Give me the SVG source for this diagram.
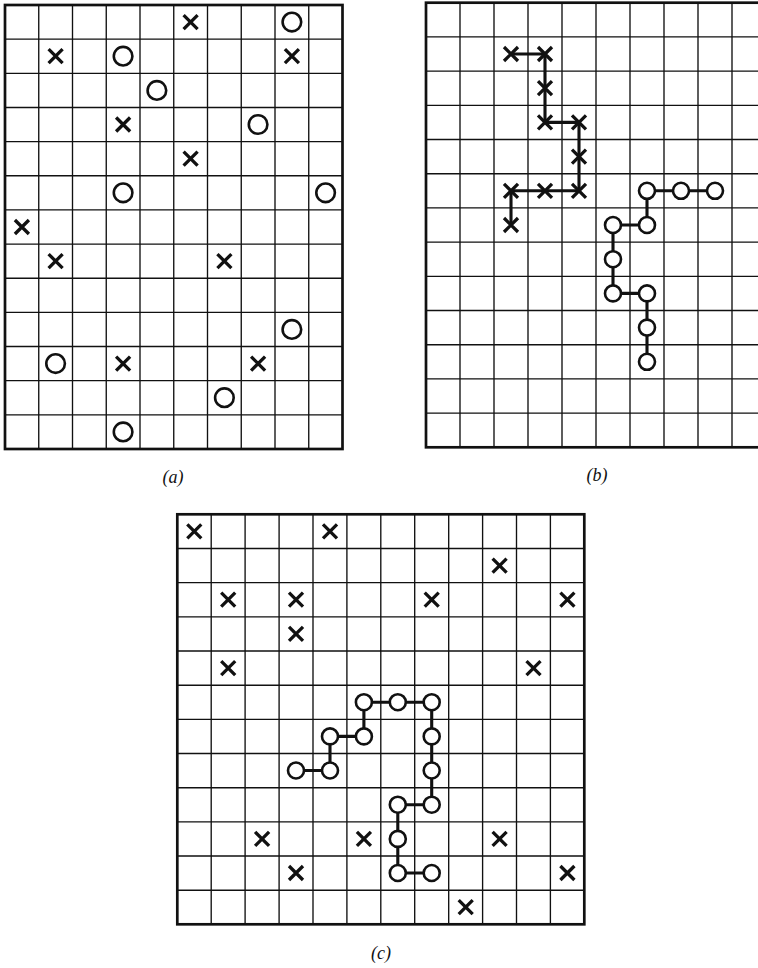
<svg xmlns="http://www.w3.org/2000/svg" width="758" height="968" viewBox="0 0 758 968">
<style>
.bg{fill:#fff}
.grid{fill:none;stroke:#111;stroke-width:1.35}
.border{fill:none;stroke:#111;stroke-width:2.7}
.xm{fill:none;stroke:#111;stroke-width:3.3;stroke-linecap:butt}
.om{fill:#fff;stroke:#111;stroke-width:2.6}
.chain{fill:none;stroke:#111;stroke-width:3.1;stroke-linejoin:miter}
.lbl{font-family:"Liberation Serif",serif;font-style:italic;font-size:18px;fill:#111;text-anchor:middle}
</style>
<defs>
<path id="X" class="xm" d="M-7,-7L7,7M-7,7L7,-7"/>
<circle id="O" class="om" r="8"/>
<circle id="OA" class="om" r="9.3"/>
</defs>
<rect class="bg" x="0" y="0" width="758" height="968"/>

<g id="grid-a">
<path class="grid" d="M38.75,5V449M72.5,5V449M106.25,5V449M140,5V449M173.75,5V449M207.5,5V449M241.25,5V449M275,5V449M308.75,5V449M5,39.15H342.5M5,73.3H342.5M5,107.45H342.5M5,141.6H342.5M5,175.75H342.5M5,209.9H342.5M5,244.05H342.5M5,278.2H342.5M5,312.35H342.5M5,346.5H342.5M5,380.65H342.5M5,414.8H342.5"/>
<rect class="border" x="5" y="5" width="337.5" height="444"/>
</g>
<g id="marks-a">
<g id="a-x-5-0"><use href="#X" x="190.6" y="22.1"/></g>
<g id="a-o-8-0"><use href="#OA" x="291.9" y="22.1"/></g>
<g id="a-x-1-1"><use href="#X" x="55.6" y="56.2"/></g>
<g id="a-o-3-1"><use href="#OA" x="123.1" y="56.2"/></g>
<g id="a-x-8-1"><use href="#X" x="291.9" y="56.2"/></g>
<g id="a-o-4-2"><use href="#OA" x="156.9" y="90.4"/></g>
<g id="a-x-3-3"><use href="#X" x="123.1" y="124.5"/></g>
<g id="a-o-7-3"><use href="#OA" x="258.1" y="124.5"/></g>
<g id="a-x-5-4"><use href="#X" x="190.6" y="158.7"/></g>
<g id="a-o-3-5"><use href="#OA" x="123.1" y="192.8"/></g>
<g id="a-o-9-5"><use href="#OA" x="325.6" y="192.8"/></g>
<g id="a-x-0-6"><use href="#X" x="21.9" y="227"/></g>
<g id="a-x-1-7"><use href="#X" x="55.6" y="261.1"/></g>
<g id="a-x-6-7"><use href="#X" x="224.4" y="261.1"/></g>
<g id="a-o-8-9"><use href="#OA" x="291.9" y="329.4"/></g>
<g id="a-o-1-10"><use href="#OA" x="55.6" y="363.6"/></g>
<g id="a-x-3-10"><use href="#X" x="123.1" y="363.6"/></g>
<g id="a-x-7-10"><use href="#X" x="258.1" y="363.6"/></g>
<g id="a-o-6-11"><use href="#OA" x="224.4" y="397.7"/></g>
<g id="a-o-3-12"><use href="#OA" x="123.1" y="431.9"/></g>
</g>
<text class="lbl" x="173" y="483">(a)</text>

<g id="grid-b">
<path class="grid" d="M460,2.7V447.3M494,2.7V447.3M528,2.7V447.3M562,2.7V447.3M596,2.7V447.3M630,2.7V447.3M664,2.7V447.3M698,2.7V447.3M732,2.7V447.3M426,36.9H766M426,71.1H766M426,105.3H766M426,139.5H766M426,173.7H766M426,207.9H766M426,242.1H766M426,276.3H766M426,310.5H766M426,344.7H766M426,378.9H766M426,413.1H766"/>
<rect class="border" x="426" y="2.7" width="340" height="444.6"/>
</g>
<g id="connectors">
<path class="chain" d="M511,54H545V122.4H579V190.8H511V225"/>
<path class="chain" d="M715,190.8H647V225H613V293.4H647V361.8"/>
<path class="chain" d="M296,770.5H330V736.4H363.9V702.2H431.7V804.7H397.8V873H431.7"/>
</g>
<g id="marks-b">
<g id="b-x-2-1"><use href="#X" x="511" y="54"/></g>
<g id="b-x-3-1"><use href="#X" x="545" y="54"/></g>
<g id="b-x-3-2"><use href="#X" x="545" y="88.2"/></g>
<g id="b-x-3-3"><use href="#X" x="545" y="122.4"/></g>
<g id="b-x-4-3"><use href="#X" x="579" y="122.4"/></g>
<g id="b-x-4-4"><use href="#X" x="579" y="156.6"/></g>
<g id="b-x-4-5"><use href="#X" x="579" y="190.8"/></g>
<g id="b-x-3-5"><use href="#X" x="545" y="190.8"/></g>
<g id="b-x-2-5"><use href="#X" x="511" y="190.8"/></g>
<g id="b-x-2-6"><use href="#X" x="511" y="225"/></g>
<g id="b-o-6-5"><use href="#O" x="647" y="190.8"/></g>
<g id="b-o-7-5"><use href="#O" x="681" y="190.8"/></g>
<g id="b-o-8-5"><use href="#O" x="715" y="190.8"/></g>
<g id="b-o-6-6"><use href="#O" x="647" y="225"/></g>
<g id="b-o-5-6"><use href="#O" x="613" y="225"/></g>
<g id="b-o-5-7"><use href="#O" x="613" y="259.2"/></g>
<g id="b-o-5-8"><use href="#O" x="613" y="293.4"/></g>
<g id="b-o-6-8"><use href="#O" x="647" y="293.4"/></g>
<g id="b-o-6-9"><use href="#O" x="647" y="327.6"/></g>
<g id="b-o-6-10"><use href="#O" x="647" y="361.8"/></g>
</g>
<text class="lbl" x="597" y="481">(b)</text>

<g id="grid-c">
<path class="grid" d="M211.2,514.3V924.3M245.1,514.3V924.3M279.1,514.3V924.3M313,514.3V924.3M346.9,514.3V924.3M380.8,514.3V924.3M414.7,514.3V924.3M448.7,514.3V924.3M482.6,514.3V924.3M516.5,514.3V924.3M550.4,514.3V924.3M177.3,548.5H584.3M177.3,582.6H584.3M177.3,616.8H584.3M177.3,651H584.3M177.3,685.2H584.3M177.3,719.3H584.3M177.3,753.5H584.3M177.3,787.7H584.3M177.3,821.8H584.3M177.3,856H584.3M177.3,890.2H584.3"/>
<rect class="border" x="177.3" y="514.3" width="407" height="410"/>
</g>
<g id="marks-c">
<g id="c-x-0-0"><use href="#X" x="194.3" y="531.4"/></g>
<g id="c-x-4-0"><use href="#X" x="330" y="531.4"/></g>
<g id="c-x-9-1"><use href="#X" x="499.6" y="565.6"/></g>
<g id="c-x-1-2"><use href="#X" x="228.2" y="599.7"/></g>
<g id="c-x-3-2"><use href="#X" x="296" y="599.7"/></g>
<g id="c-x-7-2"><use href="#X" x="431.7" y="599.7"/></g>
<g id="c-x-11-2"><use href="#X" x="567.4" y="599.7"/></g>
<g id="c-x-3-3"><use href="#X" x="296" y="633.9"/></g>
<g id="c-x-1-4"><use href="#X" x="228.2" y="668.1"/></g>
<g id="c-x-10-4"><use href="#X" x="533.5" y="668.1"/></g>
<g id="c-x-2-9"><use href="#X" x="262.1" y="838.9"/></g>
<g id="c-x-5-9"><use href="#X" x="363.9" y="838.9"/></g>
<g id="c-x-9-9"><use href="#X" x="499.6" y="838.9"/></g>
<g id="c-x-3-10"><use href="#X" x="296" y="873"/></g>
<g id="c-x-11-10"><use href="#X" x="567.4" y="873"/></g>
<g id="c-x-8-11"><use href="#X" x="465.7" y="907.2"/></g>
<g id="c-o-5-5"><use href="#O" x="363.9" y="702.2"/></g>
<g id="c-o-6-5"><use href="#O" x="397.8" y="702.2"/></g>
<g id="c-o-7-5"><use href="#O" x="431.7" y="702.2"/></g>
<g id="c-o-4-6"><use href="#O" x="330" y="736.4"/></g>
<g id="c-o-5-6"><use href="#O" x="363.9" y="736.4"/></g>
<g id="c-o-7-6"><use href="#O" x="431.7" y="736.4"/></g>
<g id="c-o-3-7"><use href="#O" x="296" y="770.5"/></g>
<g id="c-o-4-7"><use href="#O" x="330" y="770.5"/></g>
<g id="c-o-7-7"><use href="#O" x="431.7" y="770.5"/></g>
<g id="c-o-6-8"><use href="#O" x="397.8" y="804.7"/></g>
<g id="c-o-7-8"><use href="#O" x="431.7" y="804.7"/></g>
<g id="c-o-6-9"><use href="#O" x="397.8" y="838.9"/></g>
<g id="c-o-6-10"><use href="#O" x="397.8" y="873"/></g>
<g id="c-o-7-10"><use href="#O" x="431.7" y="873"/></g>
</g>
<text class="lbl" x="381" y="959">(c)</text>
</svg>
